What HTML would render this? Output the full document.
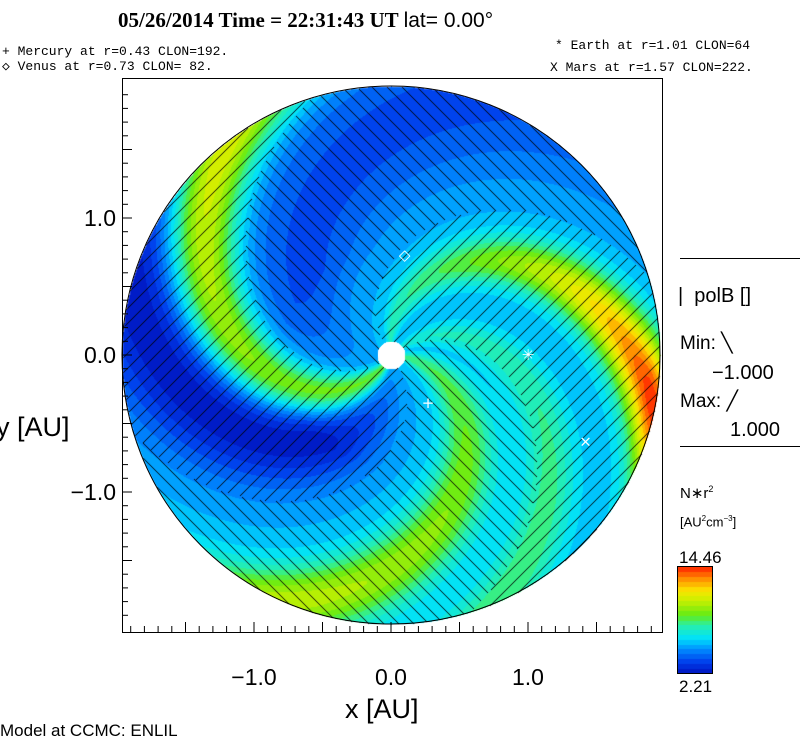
<!DOCTYPE html>
<html><head><meta charset="utf-8"><style>
body{margin:0;width:800px;height:746px;background:#fff;position:relative;overflow:hidden;font-family:"Liberation Sans",sans-serif;}
.t{position:absolute;white-space:nowrap;color:#000;}
.m{font-family:"Liberation Mono",monospace;font-size:13px;}
</style></head><body>
<div class="t" style="left:118px;top:8px;font-family:'Liberation Serif',serif;font-weight:bold;font-size:21px;">05/26/2014 Time = 22:31:43 UT <span style="font-family:'Liberation Sans',sans-serif;font-weight:normal;">lat= 0.00°</span></div>
<div class="t m" style="left:2px;top:44px;">+ Mercury at r=0.43 CLON=192.</div>
<div class="t m" style="left:2px;top:59px;">◇ Venus at r=0.73 CLON= 82.</div>
<div class="t m" style="left:555px;top:38px;">* Earth at  r=1.01 CLON=64</div>
<div class="t m" style="left:550px;top:60px;">X Mars at r=1.57 CLON=222.</div>
<canvas id="cv" width="540" height="554" style="position:absolute;left:122px;top:78px;"></canvas>
<svg id="ax" width="800" height="746" style="position:absolute;left:0;top:0;"></svg>
<div class="t" style="left:-4px;top:412px;font-size:27px;">y [AU]</div>
<div class="t" style="left:345px;top:694px;font-size:27px;">x [AU]</div>
<div class="t" style="left:0;top:721px;font-size:17px;">Model at CCMC: ENLIL</div>
<div style="position:absolute;left:680px;top:258px;width:120px;border-top:1px solid #000"></div>
<div class="t" style="left:678px;top:285px;font-size:20px;">| &nbsp;polB []</div>
<div class="t" style="left:680px;top:332px;font-size:19px;">Min: ╲</div>
<div class="t" style="left:712px;top:362px;font-size:20px;">−1.000</div>
<div class="t" style="left:680px;top:390px;font-size:19px;">Max: ╱</div>
<div class="t" style="left:730px;top:419px;font-size:20px;">1.000</div>
<div style="position:absolute;left:680px;top:446px;width:120px;border-top:1px solid #000"></div>
<div class="t" style="left:680px;top:484px;font-size:15px;">N∗r<sup style="font-size:9px">2</sup></div>
<div class="t" style="left:680px;top:514px;font-size:13px;">[AU<sup style="font-size:8px">2</sup>cm<sup style="font-size:8px">−3</sup>]</div>
<div class="t" style="left:679px;top:548px;font-size:17px;">14.46</div>
<canvas id="cb" width="34" height="106" style="position:absolute;left:678px;top:567px;outline:1px solid #000;"></canvas>
<div class="t" style="left:679px;top:677px;font-size:17px;">2.21</div>
<script>
// Arm data (spiral phase psi = phi + k*r, degrees)
const armPsi=[100,45,358,240];
const armPeak=[8.6,2.6,4.6,6.2];
const armWidth=[10,9,12,12];
const troughPsi=[185,275];
const troughDepth=[2.0,3.3];
const troughWidth=[28,20];
const baseVal=5.7;
const vmin=2.21, vmax=14.46;
const xTicks=[-1.0,0.0,1.0];
const yTicks=[1.0,0.0,-1.0];
const planets=[{n:'venus',x:0.10,y:0.73,s:'◇'},{n:'mercury',x:0.27,y:-0.35,s:'+'},{n:'earth',x:1.0,y:0.0,s:'✳'},{n:'mars',x:1.42,y:-0.63,s:'×'}];
const K=57, SC=137, CX=269, CY=277, R=269;
function X(v){return 122+CX+v*SC;} function Y(v){return 78+CY-v*SC;}
const stops=[[0,[0,20,190]],[0.1,[0,60,235]],[0.22,[0,140,255]],[0.33,[0,225,250]],[0.45,[40,240,170]],[0.55,[100,235,20]],[0.68,[200,240,0]],[0.78,[250,230,0]],[0.88,[255,150,0]],[1,[255,30,0]]];
function cmap(f){f=Math.max(0,Math.min(0.999,f));f=Math.floor(f*22)/22+0.02;for(let i=1;i<stops.length;i++){if(f<=stops[i][0]){const a=stops[i-1],b=stops[i],t=(f-a[0])/(b[0]-a[0]);return a[1].map((c,j)=>Math.round(c+(b[1][j]-c)*t));}}return stops[stops.length-1][1];}
function ad(a){a=((a%360)+540)%360-180;return a;}
const cv=document.getElementById('cv'),ctx=cv.getContext('2d');const img=ctx.createImageData(540,554);
for(let py=0;py<554;py++)for(let px=0;px<540;px++){
 const dx=px-CX,dy=CY-py,rp=Math.hypot(dx,dy);const o=(py*540+px)*4;
 if(rp>R||rp<14){img.data[o]=255;img.data[o+1]=255;img.data[o+2]=255;img.data[o+3]=255;continue;}
 const r=rp/SC,phi=Math.atan2(dy,dx)*180/Math.PI,psi=phi+K*r;
 let v=baseVal;const q=Math.min(1,r/1.9);
 for(let i=0;i<armPsi.length;i++){const d=ad(psi-armPsi[i]);const g=i===0?(0.2+0.8*q*q):(0.5+0.5*q);v+=armPeak[i]*g*Math.exp(-d*d/(2*armWidth[i]*armWidth[i]));}
 for(let i=0;i<troughPsi.length;i++){const d=ad(psi-troughPsi[i]);v-=troughDepth[i]*Math.min(1,r/0.8)*Math.exp(-d*d/(2*troughWidth[i]*troughWidth[i]));}
 let c=cmap((v-vmin)/(vmax-vmin));
 const pos=Math.cos((2*psi-168)*Math.PI/180)>0;
 const ax=px+122,ay=py+78;
 const line=pos?(((ax+ay)%15+15)%15===0):(((ax-ay)%15+15)%15===0);
 if(line)c=[0,0,0];
 img.data[o]=c[0];img.data[o+1]=c[1];img.data[o+2]=c[2];img.data[o+3]=255;}
ctx.putImageData(img,0,0);
const cb=document.getElementById('cb').getContext('2d');
for(let i=0;i<106;i++){const c=cmap(1-i/106);cb.fillStyle=`rgb(${c})`;cb.fillRect(0,i,34,1);}
const svg=document.getElementById('ax');const NS='http://www.w3.org/2000/svg';
function el(t,a,txt){const e=document.createElementNS(NS,t);for(const k in a)e.setAttribute(k,a[k]);if(txt!==undefined)e.textContent=txt;svg.appendChild(e);return e;}
const box=el('rect',{x:122.5,y:78.5,width:540,height:554,fill:'none',stroke:'#000'});


el('circle',{cx:X(0),cy:Y(0),r:R,fill:'none',stroke:'#000','stroke-width':1});
for(let v=-1.9;v<=1.95;v+=0.1){const x=X(v),big=Math.abs(v*10-Math.round(v*2)*5)<0.01;
 el('line',{x1:x,y1:632,x2:x,y2:big?622:626,stroke:'#000'});
 const y=Y(v);if(y>78&&y<632)el('line',{x1:122,y1:y,x2:big?132:128,y2:y,stroke:'#000'});}
xTicks.forEach(v=>{const t=el('text',{x:X(v),y:685,'text-anchor':'middle','font-size':23,'font-family':'Liberation Sans'},(v<0?'−':'')+Math.abs(v).toFixed(1));
 
 });
yTicks.forEach(v=>{const t=el('text',{x:116,y:Y(v)+8,'text-anchor':'end','font-size':23,'font-family':'Liberation Sans'},(v<0?'−':'')+Math.abs(v).toFixed(1));
 
 });
el('circle',{cx:X(0),cy:Y(0),r:13,fill:'#fff'});
planets.forEach(p=>{const t=el('text',{x:X(p.x),y:Y(p.y)+5,'text-anchor':'middle','font-size':15,fill:'#fff','font-family':'DejaVu Sans'},p.s);
 
 });
</script>
</body></html>
